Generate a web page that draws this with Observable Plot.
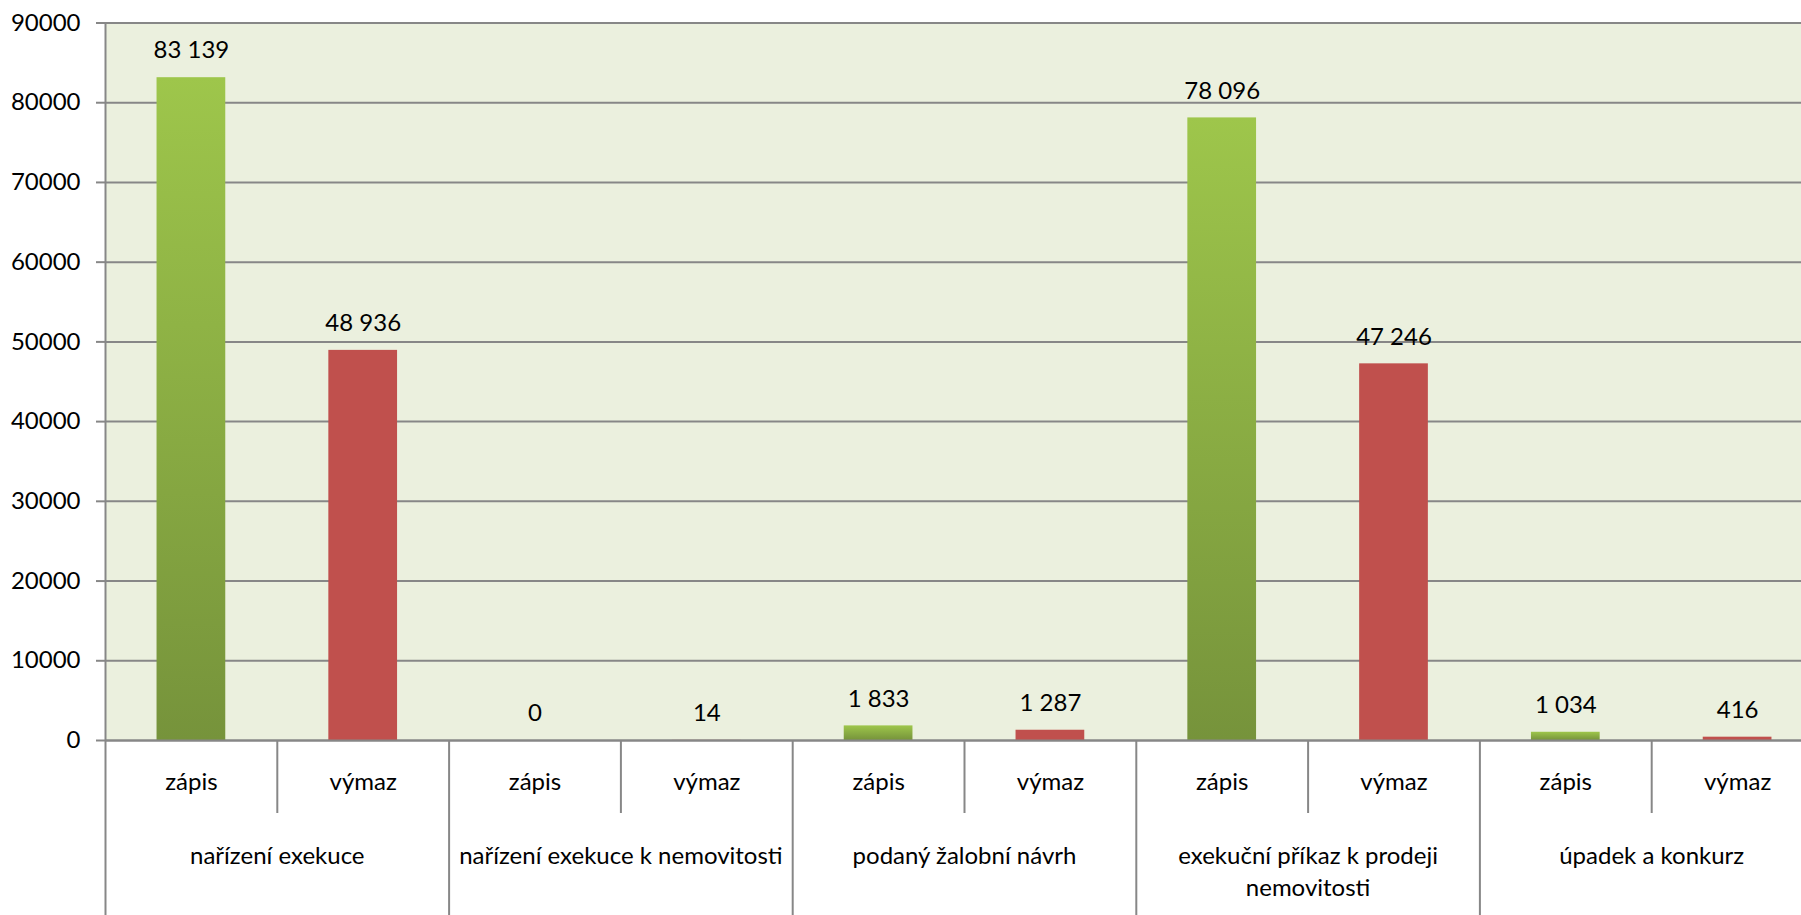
<!DOCTYPE html>
<html>
<head>
<meta charset="utf-8">
<script src="https://cdn.jsdelivr.net/npm/d3@7"></script>
<script src="https://cdn.jsdelivr.net/npm/@observablehq/plot@0.6"></script>
<style>
  html, body { margin: 0; padding: 0; background: #fff; overflow: hidden; }
  #chart svg { display: block; overflow: hidden; }
</style>
</head>
<body>
<div id="chart"></div>
<script>
const groups = [
  "nařízení exekuce",
  "nařízení exekuce k nemovitosti",
  "podaný žalobní návrh",
  "exekuční příkaz k prodeji\nnemovitosti",
  "úpadek a konkurz"
];
const types = ["zápis", "výmaz"];
const zapis = [83139, 0, 1833, 78096, 1034];
const vymaz = [48936, 14, 1287, 47246, 416];
const yTicks = [0, 10000, 20000, 30000, 40000, 50000, 60000, 70000, 80000, 90000];

const data = [];
groups.forEach((g, gi) => {
  data.push({i: gi * 2, group: g, type: types[0], value: zapis[gi]});
  data.push({i: gi * 2 + 1, group: g, type: types[1], value: vymaz[gi]});
});
const groupData = groups.map((g, gi) => ({i: gi * 2, group: g}));

const fmt = d3.formatLocale({thousands: " ", grouping: [3], decimal: ","}).format(",d");
const GRID = "#878787";
const FONT = 24;

const defs = () => {
  const g = d3.create("svg:defs");
  const lg = g.append("linearGradient").attr("id", "greenGrad").attr("x1", 0).attr("y1", 0).attr("x2", 0).attr("y2", 1);
  lg.append("stop").attr("offset", "0%").attr("stop-color", "#9ec64b");
  lg.append("stop").attr("offset", "100%").attr("stop-color", "#76933b");
  const f = g.append("filter").attr("id", "barShadow").attr("x", "-30%").attr("y", "-10%").attr("width", "160%").attr("height", "120%");
  f.append("feDropShadow").attr("dx", 0).attr("dy", 1).attr("stdDeviation", 3).attr("flood-color", "#c8ccc0").attr("flood-opacity", 0.9);
  return g.node();
};

const chart = Plot.plot({
  width: 1801,
  height: 915,
  marginLeft: 105,
  marginRight: 0,
  marginTop: 22.5,
  marginBottom: 175,
  style: {fontFamily: "Lato, 'Open Sans', sans-serif", fontSize: FONT + "px", color: "#000", background: "#fff", overflow: "hidden"},
  x: {type: "linear", domain: [0, 10], range: [105, 1823]},
  y: {domain: [0, 90000], label: null},
  marks: [
    defs,
    Plot.frame({fill: "#ebf0de", stroke: null}),
    Plot.gridY({ticks: yTicks, stroke: GRID, strokeOpacity: 1, strokeWidth: 2}),
    Plot.ruleX([0], {stroke: GRID, strokeWidth: 2}),
    Plot.axisY({ticks: yTicks, tickSize: 9, tickPadding: 16, tickFormat: d => String(d), label: null, stroke: GRID, strokeWidth: 2, fontSize: FONT, fill: "#000"}),
    Plot.axisX({ticks: [1, 3, 5, 7, 9], tickSize: 73, tickFormat: () => "", label: null, stroke: GRID, strokeWidth: 2}),
    Plot.axisX({ticks: [0, 2, 4, 6, 8, 10], tickSize: 175, tickFormat: () => "", label: null, stroke: GRID, strokeWidth: 2}),
    Plot.rectY(data, {
      x1: d => d.i + 0.3,
      x2: d => d.i + 0.7,
      y: "value",
      fill: d => d.type === "zápis" ? "url(#greenGrad)" : "#c0504d",
      filter: d => d.value > 0,
      style: {filter: "url(#barShadow)"}
    }),
    Plot.ruleY([0], {stroke: GRID, strokeWidth: 2}),
    Plot.text(data, {x: d => d.i + 0.5, y: "value", text: d => fmt(d.value), dy: -27, fontSize: FONT, fill: "#000"}),
    Plot.text(data, {x: d => d.i + 0.5, frameAnchor: "bottom", text: "type", dy: 49, fontSize: FONT, fill: "#000"}),
    Plot.text(groupData, {x: d => d.i + 1, frameAnchor: "bottom", text: "group", lineAnchor: "top", dy: 100, lineHeight: 1.35, fontSize: FONT, fill: "#000"})
  ]
});
document.getElementById("chart").appendChild(chart);
</script>
</body>
</html>
